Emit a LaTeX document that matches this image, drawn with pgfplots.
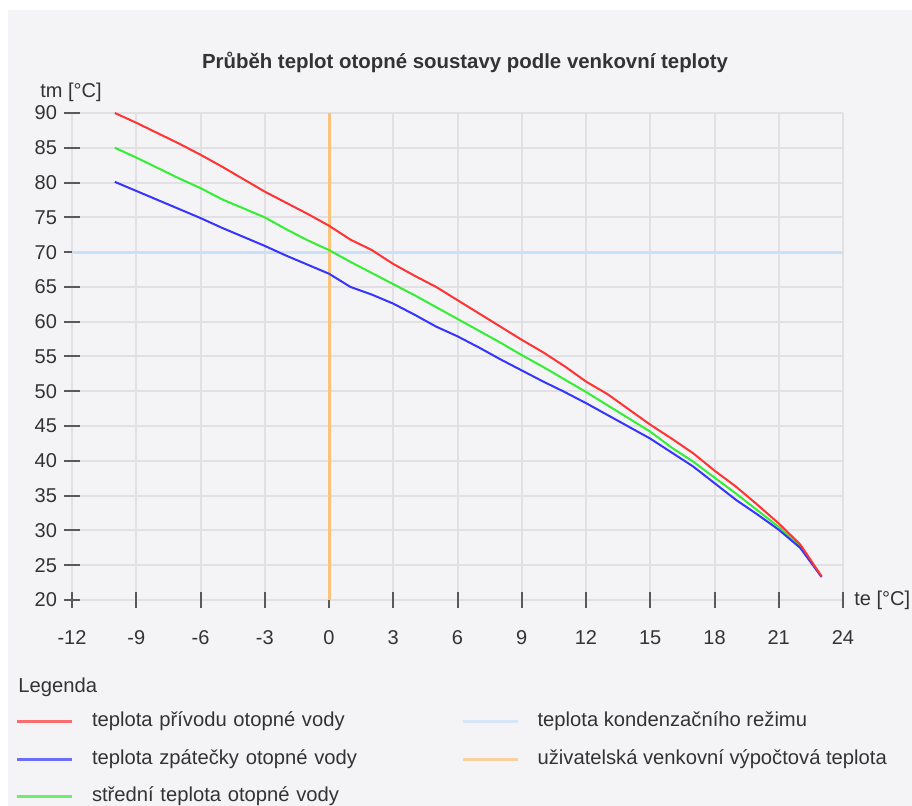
\documentclass[border=0pt]{standalone}
\usepackage{fontspec}
\setmainfont{Liberation Sans}
\usepackage{pgfplots}
\pgfplotsset{compat=1.18}
\usepackage{pgfplotstable}
\definecolor{bg}{HTML}{F4F4F6}
\definecolor{gridc}{HTML}{E1E1E3}
\definecolor{tickc}{HTML}{5A5A5A}
\definecolor{txt}{HTML}{333333}
\definecolor{cred}{HTML}{FF3333}
\definecolor{cblue}{HTML}{3535FF}
\definecolor{cgreen}{HTML}{33EE33}
\definecolor{ccond}{HTML}{C8E1F8}
\definecolor{corange}{HTML}{FBC27A}

\pgfplotstableread{
te  tp    tz    ts
-10 90.0  80.1  85.0
-9  88.6  78.8  83.6
-8  87.1  77.5  82.1
-7  85.6  76.2  80.6
-6  84.0  74.9  79.2
-5  82.3  73.5  77.6
-4  80.5  72.2  76.3
-3  78.7  70.9  75.0
-2  77.1  69.5  73.3
-1  75.5  68.2  71.7
0   73.8  66.9  70.3
1   71.8  65.0  68.6
2   70.3  63.9  67.0
3   68.3  62.6  65.4
4   66.6  61.0  63.8
5   65.0  59.3  62.1
6   63.1  57.9  60.4
7   61.2  56.3  58.7
8   59.3  54.6  57.0
9   57.4  53.0  55.2
10  55.6  51.4  53.5
11  53.6  49.9  51.7
12  51.4  48.3  49.9
13  49.6  46.6  48.0
14  47.4  44.9  46.1
15  45.2  43.2  44.2
16  43.2  41.2  41.9
17  41.1  39.2  39.9
18  38.6  36.8  37.6
19  36.3  34.4  35.3
20  33.7  32.3  32.9
21  31.0  30.1  30.5
22  28.0  27.5  27.7
23  23.4  23.3  23.4
}\datatable

\begin{document}
\begin{tikzpicture}
\begin{scope}[x=0.5pt,y=-0.5pt]
\fill[white] (0,0) rectangle (912,806);
\fill[bg] (8,10) rectangle (912,806);
\node[font=\bfseries\fontsize{10.2}{12}\selectfont, text=txt] at (465,62) {Průběh teplot otopné soustavy podle venkovní teploty};
\node[anchor=west, inner sep=0pt, font=\fontsize{10}{12}\selectfont, text=txt] at (40,92) {tm [°C]};
\node[anchor=west, inner sep=0pt, font=\fontsize{10}{12}\selectfont, text=txt] at (854,600) {te [°C]};
\node[anchor=west, inner sep=0pt, font=\fontsize{10.1}{12}\selectfont, text=txt] at (18,687) {Legenda};
\end{scope}
\begin{axis}[
  at={(36pt,-300pt)}, anchor=south west,
  scale only axis, width=385.5pt, height=243.5pt,
  xmin=-12, xmax=24, ymin=20, ymax=90,
  xtick={-12,-9,...,24}, ytick={20,25,...,90},
  axis x line*=bottom, axis y line*=left,
  axis line style={draw=none},
  grid=major, major grid style={line width=1pt, gridc},
  tick align=center, major tick length=8pt,
  xtick style={draw=tickc, line width=1pt},
  ytick style={draw=tickc, line width=1pt},
  /pgf/number format/assume math mode=true,
  tick label style={font=\fontsize{10}{12}\selectfont, text=txt},
  xticklabel style={anchor=north, yshift=-7.5pt, text height=7.3pt, text depth=0pt},
  legend columns=2,
  legend cell align=left,
  legend image code/.code={\draw[#1, line width=1.5pt, opacity=0.7] (0pt,0pt) -- (27.5pt,0pt);},
  legend style={at={(-0.0817,-0.2224)}, anchor=north west, draw=none, fill=none,
    font=\fontsize{10.1}{12}\selectfont, text=txt,
    nodes={inner sep=0pt, text height=7pt, text depth=2pt},
    row sep=9.75pt,
    /tikz/every odd column/.append style={column sep=9.3pt},
    /tikz/column 2/.style={text width=184.5pt}},
]
\addplot[ccond, line width=1.5pt, forget plot] coordinates {(-12,70) (24,70)};
\addplot[corange, line width=1.5pt, forget plot] coordinates {(0,20) (0,90)};
\addplot[cgreen, line width=1pt, forget plot] table[x=te, y=ts] {\datatable};
\addplot[cblue, line width=1pt, forget plot] table[x=te, y=tz] {\datatable};
\addplot[cred, line width=1pt, forget plot] table[x=te, y=tp] {\datatable};
\addlegendimage{cred}
\addlegendentry{teplota přívodu otopné vody}
\addlegendimage{ccond}
\addlegendentry{teplota kondenzačního režimu}
\addlegendimage{cblue}
\addlegendentry{teplota zpátečky otopné vody}
\addlegendimage{corange}
\addlegendentry{uživatelská venkovní výpočtová teplota}
\addlegendimage{cgreen}
\addlegendentry{střední teplota otopné vody}
\end{axis}
\pgfresetboundingbox
\useasboundingbox (0,0) rectangle (456pt,-403pt);
\end{tikzpicture}
\end{document}
